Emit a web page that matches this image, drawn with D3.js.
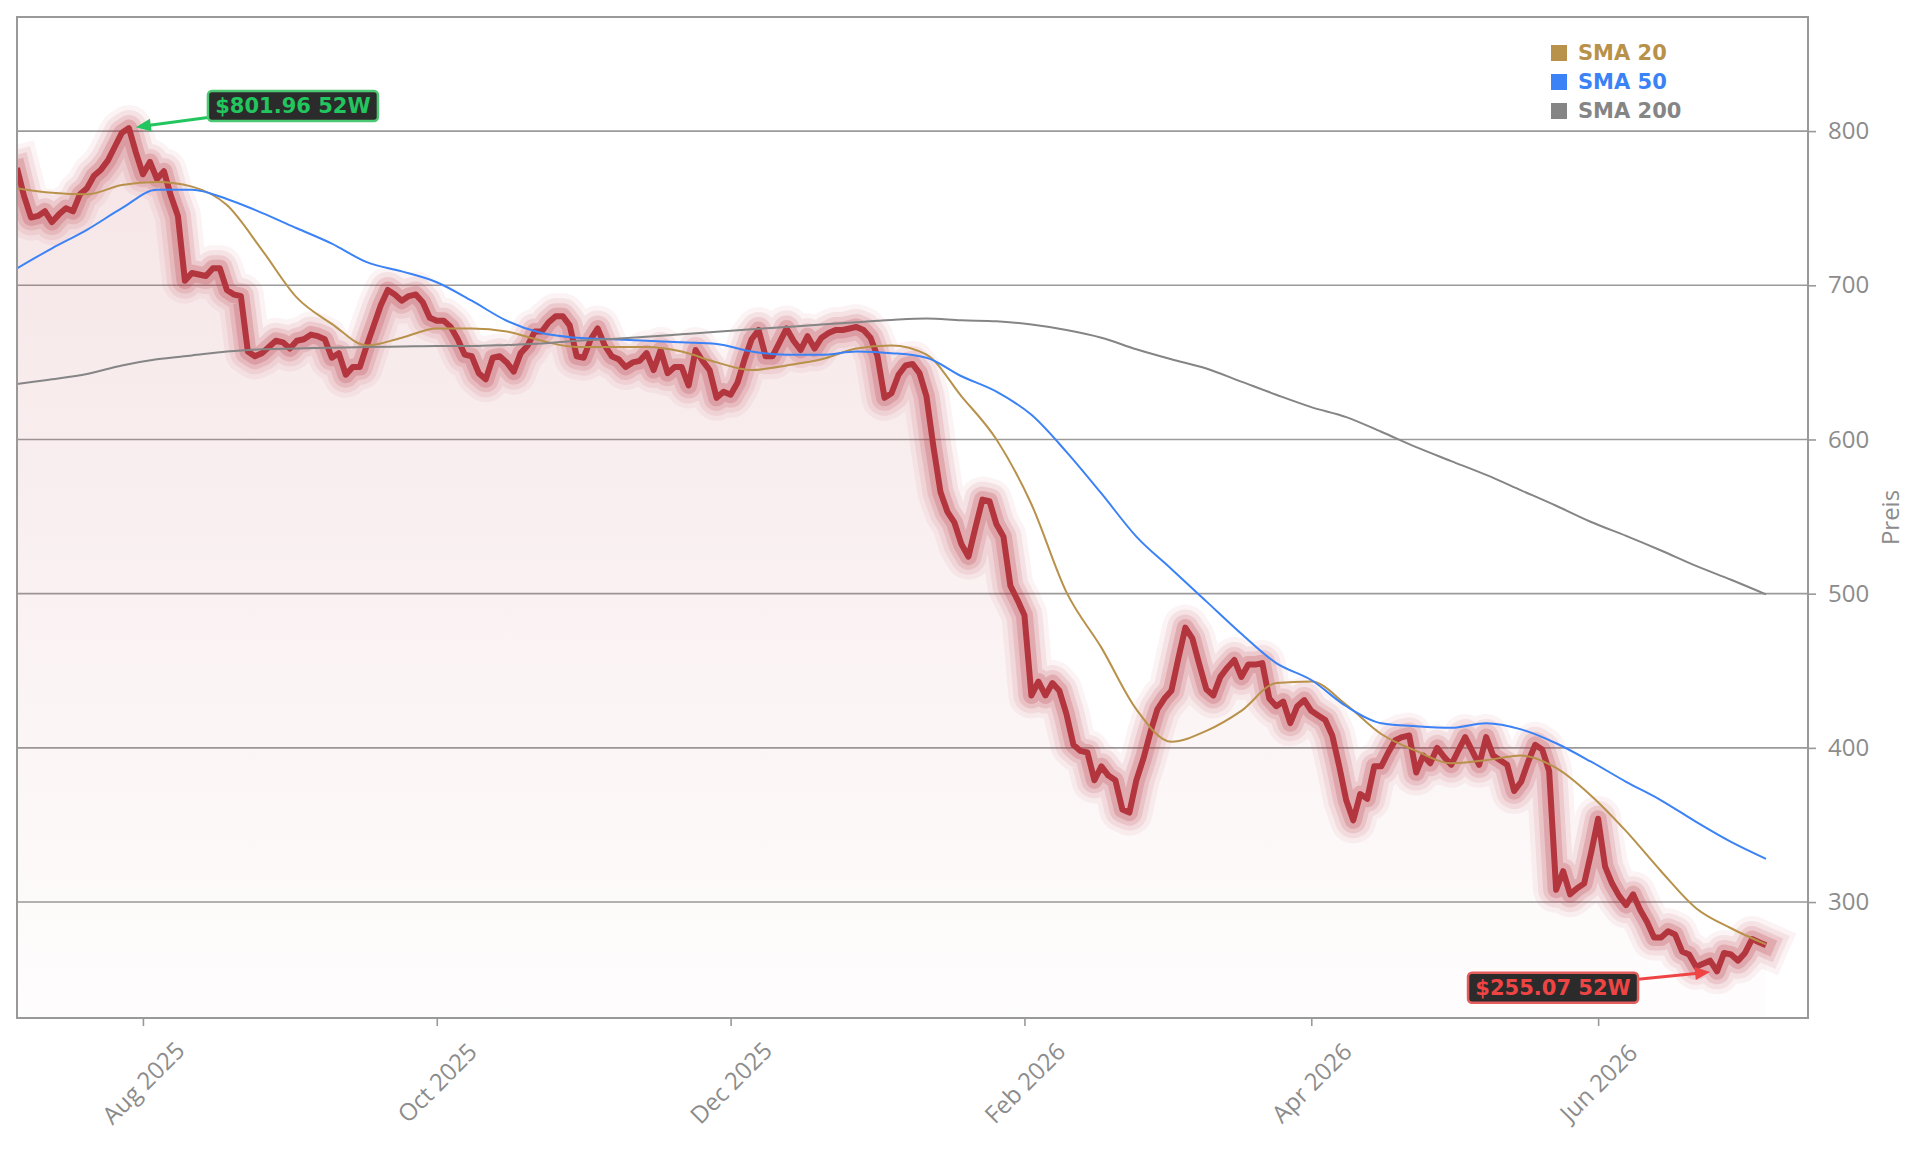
<!DOCTYPE html>
<html lang="de">
<head>
<meta charset="UTF-8">
<title>Preis 52W</title>
<style>
  * { margin: 0; padding: 0; }
  body { background: #fff; }
  svg { display: block; }
</style>
</head>
<body>
<div id="chart"></div>
<script src="https://cdn.jsdelivr.net/npm/d3@7"></script>
<script>
  // Tagesschlusskurse, ein Wert je Handelstag (Index 0 .. 250)
  const price = [
    776, 758, 744, 745, 748, 741, 746, 750, 748, 759,
    763, 771, 775, 781, 790, 799, 801.96, 786, 772, 780,
    769, 774, 758, 745, 703, 708, 707, 706, 711, 711,
    697, 694, 693, 657, 654, 656, 660, 664, 663, 659,
    664, 665, 668, 667, 665, 653, 656, 642, 647, 647,
    661, 674, 687, 697, 694, 690, 693, 694, 689, 679,
    677, 677, 673, 665, 655, 654, 643, 639, 653, 654,
    650, 644, 656, 661, 670, 670, 676, 680, 680, 674,
    654, 653, 665, 672, 661, 654, 652, 647, 650, 651,
    656, 645, 658, 643, 647, 647, 635, 658, 651, 645,
    627, 631, 629, 637, 652, 665, 671, 654, 654, 663,
    672, 664, 658, 667, 659, 666, 669, 671, 671, 672,
    673, 671, 666, 654, 627, 630, 642, 648, 649, 643,
    628, 595, 566, 553, 546, 532, 524, 543, 561, 560,
    545, 537, 505, 496, 486, 434, 443, 434, 442, 437,
    422, 402, 398, 397, 379, 388, 382, 379, 360, 358,
    379, 393, 410, 425, 432, 437, 458, 478, 471, 454,
    438, 434, 446, 452, 457, 446, 454, 454, 455, 432,
    427, 430, 416, 427, 431, 424, 421, 418, 408, 388,
    366, 353, 370, 367, 388, 388, 397, 405, 407, 408,
    384, 395, 390, 400, 394, 389, 398, 407, 398, 389,
    407, 395, 392, 389, 372, 378, 391, 402, 399, 385,
    308, 320, 305, 309, 312, 332, 354, 323, 312, 304,
    298, 305, 295, 287, 277, 277, 281, 279, 268, 266,
    258, 260, 262, 255.07, 267, 266, 262, 267, 276, 274,
    272
  ]

  const smaStep = 5
  const sma20 = [
    763, 760, 759, 765, 767, 764, 752, 723, 692, 675,
    661, 666, 672, 672, 670, 664, 660, 660, 660, 657,
    650, 645, 648, 652, 659, 661, 655, 628, 600, 558,
    501, 465, 425, 404, 411, 424, 442, 443, 428, 409,
    398, 390, 392, 395, 387, 369, 346, 320, 296, 283,
    272.5
  ]
  const sma50 = [
    711, 724, 736, 750, 762, 762, 756, 747, 737, 727,
    715, 709, 702, 690, 677, 669, 666, 665, 664, 663,
    662, 657, 655, 655, 657, 656, 653, 641, 631, 616,
    592, 565, 537, 516, 495, 474, 455, 444, 427, 416,
    414, 413, 416, 412, 403, 391, 378, 366, 352, 339,
    328
  ]
  const sma200 = [
    636, 639, 642.5, 648, 652, 654.5, 657, 658.5, 659, 659.5,
    660, 660.3, 660.6, 660.6, 661.3, 662.2, 664, 665.2, 666.6, 668.2,
    669.8, 671.5, 673, 674.5, 676.1, 677.5, 678.4, 677.3, 676.7, 674.5,
    671, 666, 658.5, 652, 646, 637.5, 629, 621, 614.5, 605,
    595, 586, 577, 567, 557, 546.5, 537.5, 528, 518, 509,
    499.5
  ]

  // Monatsanfang als Handelstag-Index
  const tickIdx = [18, 60, 102, 144, 185, 226]
  const tickLabels = ['Aug 2025', 'Oct 2025', 'Dec 2025', 'Feb 2026', 'Apr 2026', 'Jun 2026']
  const yTicks = [300, 400, 500, 600, 700, 800]

  const legendNames = ['SMA 20', 'SMA 50', 'SMA 200']
  const legendColors = ['#b8914a', '#3b82f6', '#858585']

  const width = 1921
  const height = 1151
  const plot = { left: 17, top: 17, right: 1808, bottom: 1018 }
  const grey = '#8c8c8c'
  const tickFont = 'Open Sans'
  const boldFont = 'DejaVu Sans'

  const svg = d3.select('#chart')
    .append('svg')
    .attr('width', width)
    .attr('height', height)
    .style('background', '#fff')

  const x = d3.scaleLinear().domain([0, 256]).range([plot.left, plot.right])
  const y = d3.scaleLinear().domain([224.8, 874]).range([plot.bottom, plot.top])

  const defs = svg.append('defs')
  defs.append('clipPath').attr('id', 'clip')
    .append('rect')
    .attr('x', plot.left).attr('y', plot.top)
    .attr('width', plot.right - plot.left)
    .attr('height', plot.bottom - plot.top)

  const grad = defs.append('linearGradient')
    .attr('id', 'fillGrad')
    .attr('gradientUnits', 'userSpaceOnUse')
    .attr('x1', 0).attr('x2', 0)
    .attr('y1', plot.top).attr('y2', plot.bottom)
  grad.append('stop').attr('offset', 0).attr('stop-color', '#b83a45').attr('stop-opacity', 0.15)
  grad.append('stop').attr('offset', 1).attr('stop-color', '#b83a45').attr('stop-opacity', 0.01)

  // Gitternetz
  svg.append('g')
    .selectAll('line')
    .data(yTicks)
    .join('line')
    .attr('x1', plot.left)
    .attr('x2', plot.right)
    .attr('y1', d => y(d))
    .attr('y2', d => y(d))
    .attr('stroke', '#9a9a9a')
    .attr('stroke-width', 1.6)

  const chart = svg.append('g').attr('clip-path', 'url(#clip)')

  // Fläche unter dem Kurs
  const area = d3.area()
    .x((d, i) => x(i))
    .y0(plot.bottom)
    .y1(d => y(d))
  chart.append('path')
    .datum(price)
    .attr('d', area)
    .attr('fill', 'url(#fillGrad)')

  // Kurslinie mit Glow
  const priceLine = d3.line()
    .x((d, i) => x(i))
    .y(d => y(d))
  const glow = [
    { w: 46, o: 0.06 },
    { w: 36, o: 0.09 },
    { w: 26, o: 0.14 },
    { w: 17, o: 0.22 }
  ]
  chart.selectAll('path.glow')
    .data(glow)
    .join('path')
    .attr('class', 'glow')
    .attr('d', priceLine(price))
    .attr('fill', 'none')
    .attr('stroke', '#b83a45')
    .attr('stroke-opacity', d => d.o)
    .attr('stroke-width', d => d.w)
    .attr('stroke-linejoin', 'round')
    .attr('stroke-linecap', 'square')
  chart.append('path')
    .attr('d', priceLine(price))
    .attr('fill', 'none')
    .attr('stroke', '#b3353e')
    .attr('stroke-width', 6)
    .attr('stroke-linejoin', 'round')

  // SMA-Linien
  const smaLine = d3.line()
    .x((d, i) => x(i * smaStep))
    .y(d => y(d))
    .curve(d3.curveMonotoneX)
  const smaSeries = [sma20, sma50, sma200]
  chart.selectAll('path.sma')
    .data(smaSeries)
    .join('path')
    .attr('class', 'sma')
    .attr('d', d => smaLine(d))
    .attr('fill', 'none')
    .attr('stroke', (d, i) => legendColors[i])
    .attr('stroke-width', 2)

  // Rahmen
  svg.append('rect')
    .attr('x', plot.left).attr('y', plot.top)
    .attr('width', plot.right - plot.left)
    .attr('height', plot.bottom - plot.top)
    .attr('fill', 'none')
    .attr('stroke', '#999')
    .attr('stroke-width', 2)

  // y-Achse rechts
  const yAxis = svg.append('g')
    .attr('transform', `translate(${plot.right}, 0)`)
    .call(d3.axisRight(y).tickValues(yTicks).tickSize(8).tickPadding(12))
  yAxis.select('.domain').remove()
  yAxis.selectAll('line').attr('stroke', '#999').attr('stroke-width', 1.6)
  yAxis.selectAll('text')
    .attr('fill', grey)
    .style('font-family', tickFont)
    .style('font-size', '24px')

  // x-Achse
  const xAxis = svg.append('g')
    .attr('transform', `translate(0, ${plot.bottom})`)
    .call(d3.axisBottom(x).tickValues(tickIdx).tickFormat((d, i) => tickLabels[i]).tickSize(8))
  xAxis.select('.domain').remove()
  xAxis.selectAll('line').attr('stroke', '#999').attr('stroke-width', 1.6)
  xAxis.selectAll('text')
    .attr('y', 0)
    .attr('dy', '0.35em')
    .attr('transform', 'translate(0, 65) rotate(-45)')
    .attr('text-anchor', 'middle')
    .attr('fill', grey)
    .style('font-family', tickFont)
    .style('font-size', '24px')

  // Achsentitel
  svg.append('text')
    .attr('transform', `translate(1893, ${(plot.top + plot.bottom) / 2}) rotate(-90)`)
    .attr('text-anchor', 'middle')
    .attr('dominant-baseline', 'middle')
    .attr('fill', grey)
    .style('font-family', tickFont)
    .style('font-size', '24px')
    .text('Preis')

  // Legende
  const legend = svg.append('g').attr('transform', 'translate(1551, 45)')
  const legendRow = legend.selectAll('g')
    .data(legendNames)
    .join('g')
    .attr('transform', (d, i) => `translate(0, ${i * 29})`)
  legendRow.append('rect')
    .attr('width', 16)
    .attr('height', 16)
    .attr('fill', (d, i) => legendColors[i])
  legendRow.append('text')
    .attr('x', 27)
    .attr('y', 14.5)
    .text(d => d)
    .attr('fill', (d, i) => legendColors[i])
    .style('font-family', boldFont)
    .style('font-weight', 700)
    .style('font-size', '21px')

  // 52W Hoch / Tief Markierungen
  const hiIdx = d3.maxIndex(price)
  const loIdx = d3.minIndex(price)
  const marks = [
    { i: hiIdx, v: price[hiIdx], dx: 164, dy: -22, color: '#22c55e', border: '#4cc973' },
    { i: loIdx, v: price[loIdx], dx: -164, dy: 16.5, color: '#ef4444', border: '#e35d5d' }
  ]
  const boxW = 170
  const boxH = 30
  marks.forEach(m => {
    const px = x(m.i)
    const py = y(m.v)
    const cx = px + m.dx
    const cy = py + m.dy
    const len = Math.hypot(m.dx, m.dy)
    const ux = m.dx / len
    const uy = m.dy / len
    const tipX = px + ux * 7
    const tipY = py + uy * 7
    const head = 15
    const t = (boxW / 2) / Math.abs(m.dx)
    const startX = cx - m.dx * t
    const startY = cy - m.dy * t
    const g = svg.append('g')
    g.append('line')
      .attr('x1', startX).attr('y1', startY)
      .attr('x2', tipX + ux * head * 0.8).attr('y2', tipY + uy * head * 0.8)
      .attr('stroke', m.color)
      .attr('stroke-width', 3)
    g.append('path')
      .attr('d', `M${tipX},${tipY}L${tipX + ux * head - uy * 6.5},${tipY + uy * head + ux * 6.5}L${tipX + ux * head + uy * 6.5},${tipY + uy * head - ux * 6.5}Z`)
      .attr('fill', m.color)
    g.append('rect')
      .attr('x', cx - boxW / 2)
      .attr('y', cy - boxH / 2)
      .attr('width', boxW)
      .attr('height', boxH)
      .attr('rx', 4)
      .attr('fill', '#2b2b2b')
      .attr('stroke', m.border)
      .attr('stroke-width', 2.5)
    g.append('text')
      .attr('x', cx)
      .attr('y', cy)
      .attr('text-anchor', 'middle')
      .attr('dominant-baseline', 'central')
      .attr('fill', m.color)
      .style('font-family', boldFont)
      .style('font-weight', 700)
      .style('font-size', '21px')
      .text(`$${m.v.toFixed(2)} 52W`)
  })
</script>
</body>
</html>
